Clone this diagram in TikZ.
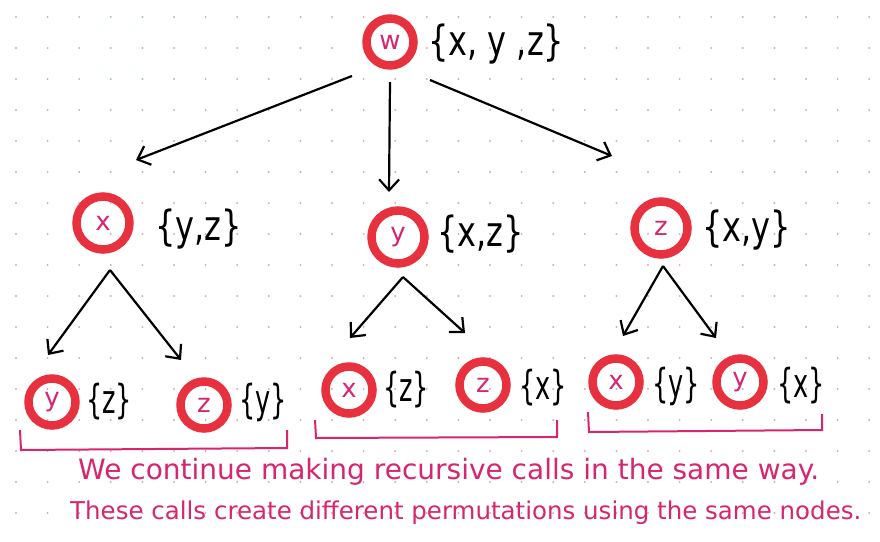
\documentclass[tikz,border=0pt]{standalone}
\usepackage{fontspec}
\setmainfont{DejaVu Sans}
\usetikzlibrary{arrows.meta}
\definecolor{ringred}{HTML}{E8313F}
\definecolor{ink}{HTML}{D62670}
\definecolor{dotc}{HTML}{DDA8B8}
\newcommand{\setA}[1]{\scalebox{1}[1.3]{#1}}
\newcommand{\setB}[1]{\scalebox{0.8}[1.25]{#1}}
\begin{document}
\begin{tikzpicture}[x=1pt,y=-1pt,
  ring/.style={circle,draw=ringred,line width=8.5pt,minimum size=47pt,inner sep=0pt,text=ink,font=\fontsize{26}{26}\selectfont},
  bigring/.style={ring,minimum size=53pt},
  setlbl/.style={font=\fontsize{32}{32}\selectfont,text=black,inner sep=0pt,anchor=west},
  arr/.style={-{Straight Barb[length=11pt,width=20pt]},line width=2.2pt,draw=black},
  brk/.style={draw=ink,line width=2pt},
  note/.style={text=ink,anchor=west,inner sep=0pt}]
\useasboundingbox (0,0) rectangle (880,541);
\fill[white] (0,0) rectangle (880,541);
\foreach \i in {0,...,27} \foreach \j in {0,...,17} \fill[dotc] (16+31.6*\i,17+31*\j) circle (1.1);

% level 1
\node[ring] (w) at (390,42) {w};
\node[setlbl] (sw) at (428,44) {\setA{\{x, y ,z\}}};
% level 2
\node[bigring] (x1) at (103,223) {x};
\node[setlbl] (sx1) at (155,229) {\setA{\{y,z\}}};
\node[bigring] (y1) at (398,237) {y};
\node[setlbl] (sy1) at (437,234) {\setA{\{x,z\}}};
\node[bigring] (z1) at (661,228) {z};
\node[setlbl] (sz1) at (702,230) {\setA{\{x,y\}}};
% level 3
\node[ring] (a1) at (52,402) {y};
\node[setlbl] (sa1) at (86,402) {\setB{\{z\}}};
\node[ring] (a2) at (204,405) {z};
\node[setlbl] (sa2) at (239,402) {\setB{\{y\}}};
\node[ring] (a3) at (349,390) {x};
\node[setlbl] (sa3) at (383,390) {\setB{\{z\}}};
\node[ring] (a4) at (483,385) {z};
\node[setlbl] (sa4) at (519,388) {\setB{\{x\}}};
\node[ring] (a5) at (616,382) {x};
\node[setlbl] (sa5) at (652,386) {\setB{\{y\}}};
\node[ring] (a6) at (740,382) {y};
\node[setlbl] (sa6) at (777,386) {\setB{\{x\}}};

% connectors level 1 -> 2
\coordinate (wl) at (352,76);
\coordinate (wm) at (390,82);
\coordinate (wr) at (430,80);
\coordinate (tl) at (136,160);
\coordinate (tm) at (389,192);
\coordinate (tr) at (612,156);
\draw[arr] (wl) -- (tl);
\draw[arr] (wm) -- (tm);
\draw[arr] (wr) -- (tr);

% connectors level 2 -> 3
\coordinate (px) at (110,270);
\coordinate (px1) at (48,355);
\coordinate (px2) at (181,360);
\draw[arr] (px) -- (px1);
\draw[arr] (px) -- (px2);
\coordinate (py) at (403,277);
\coordinate (py1) at (350,338);
\coordinate (py2) at (465,333);
\draw[arr] (py) -- (py1);
\draw[arr] (py) -- (py2);
\coordinate (pz) at (663,266);
\coordinate (pz1) at (623,336);
\coordinate (pz2) at (716,338);
\draw[arr] (pz) -- (pz1);
\draw[arr] (pz) -- (pz2);

% brackets
\draw[brk] (20,430) -- (21,450) -- (287,448) -- (287,430);
\draw[brk] (315,420) -- (316,438) -- (557,437) -- (557,420);
\draw[brk] (588,412) -- (589,432) -- (822,430) -- (822,414);

% note
\node[note,font=\fontsize{28}{28}\selectfont] (n1) at (78,472) {We continue making recursive calls in the same way.};
\node[note,font=\fontsize{24.5}{24.5}\selectfont] (n2) at (70,513) {These calls create different permutations using the same nodes.};
\end{tikzpicture}
\end{document}
